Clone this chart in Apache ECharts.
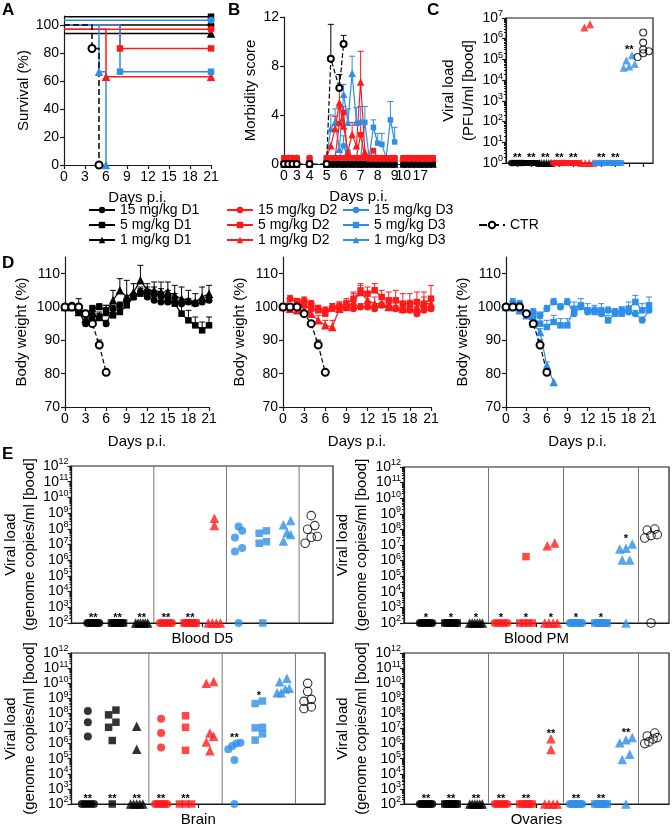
<!DOCTYPE html>
<html><head><meta charset="utf-8">
<script src="https://cdn.jsdelivr.net/npm/echarts@6/dist/echarts.min.js"></script>
<style>html,body{margin:0;padding:0;background:#fff}#c{width:672px;height:828px}</style>
</head><body><div id="c"></div>
<script>
// ================= DATA =================
const groupNames = ['15 mg/kg D1','5 mg/kg D1','1 mg/kg D1','15 mg/kg D2','5 mg/kg D2','1 mg/kg D2','15 mg/kg D3','5 mg/kg D3','1 mg/kg D3','CTR'];

// ---- A: survival (%) step points [day, %] (as drawn, incl. graph offsets)
const surv15D1 = [[0,100],[21,100]];
const surv5D1  = [[0,106],[21,106]];
const surv1D1  = [[0,94],[21,94]];
const surv15D2 = [[0,97],[21,97]];
const surv5D2  = [[0,100],[8,83.3],[21,83.3]];
const surv1D2  = [[0,97],[6,63],[21,63]];
const surv15D3 = [[0,103.5],[21,103.5]];
const surv5D3  = [[0,100],[8,66.7],[21,66.7]];
const surv1D3  = [[0,100],[5,66.7],[6,0]];
const survCTR  = [[0,100],[4,83.3],[5,0]];

// ---- B: morbidity score (categories = time points, broken axis)
const morbCats = ['0','1','2','3','3.3','3.7','4','4.25','4.5','4.75','5','5.25','5.5','5.75','6','6.25','6.5','6.75','7','7.25','7.5','7.75','8','8.25','8.5','8.75','9','9.5','10','12','14','15','17','18','20','21'];
const morbTickText = ['0','','','3','','','4','','','','5','','','','6','','','','7','','','','8','','','','9','','10','','','','17','','',''];
const _ = null;
const morb15D1 = [0,0,0,0,_,_,0,_,_,_,0,0,0,0,0,0,0,0,0,0,0,0,0,0,0,0,0,_,0,0,0,0,0,0,0,0];
const morb5D1  = [0,0,0,0,_,_,0,_,_,_,0,0,0,0,0,0,0,0,0,0,0,0,0,0,0,0,0,_,0,0,0,0,0,0,0,0];
const morb1D1  = [0,0,0,0,_,_,0,_,_,_,0,0,0,0,0,0,0,0,0,0,0,0,0,0,0,0,0,_,0,0,0,0,0,0,0,0];
const morb15D2 = [0.5,0.5,0.5,0.5,_,_,0.5,_,_,_,0.5,0.5,0.5,0.5,0.5,0.5,0.5,0.5,0.5,0.5,0.5,0.5,0.5,0.5,0.5,0.5,0.5,_,0.5,0.5,0.5,0.5,0.5,0.5,0.5,0.5];
const morb5D2  = [0.5,0.5,0.5,0.5,_,_,0.5,_,_,_,0.5,0.5,0.5,3.3,4.2,0.5,0.5,0.5,2.4,0.5,0.5,1.1,0.5,0.5,0.5,0.5,0.5,_,0.5,0.5,0.5,0.5,0.5,0.5,0.5,0.5];
const morb1D2  = [0.5,0.5,0.5,0.5,_,_,0.5,_,_,_,0.5,1.5,2.9,5.0,3.1,1.0,2.4,1.5,6.7,1.0,0.5,0.5,0.5,0.5,0.5,0.5,0.5,_,0.5,0.5,0.5,0.5,0.5,0.5,0.5,0.5];
const morb15D3 = [0.5,0.5,0.5,0.5,_,_,0.5,_,_,_,0.5,0.5,0.5,0.5,1.5,0.5,0.5,0.5,0.5,0.5,0.5,0.5,0.5,0.5,0.5,0.5,0.5,_,0.5,0.5,0.5,0.5,0.5,0.5,0.5,0.5];
const morb5D3  = [0.5,0.5,0.5,0.5,_,_,0.5,_,_,_,0.5,0.5,0.5,0.5,0.5,1.0,0.5,0.5,0.5,3.4,0.5,3.0,1.7,1.6,0.5,3.6,1.8,_,0.5,0.5,0.5,0.5,0.5,0.5,0.5,0.5];
const morb1D3  = [0.5,0.5,0.5,0.5,_,_,0.5,_,_,_,0.5,2.9,3.4,1.2,5.7,3.4,7.4,3.4,3.5,_,_,_,_,_,_,_,_,_,_,_,_,_,_,_,_,_];
const morbCTR  = [0,0,0,0,_,_,0,_,_,_,0,8.6,_,6.2,9.8,_,_,_,_,_,_,_,_,_,_,_,_,_,_,_,_,_,_,_,_,_];
// SEM as [categoryIndex, sem]
const morbSem5D2  = [[13,1.3],[14,0.5],[18,1.0]];
const morbSem1D2  = [[12,1.0],[13,1.3],[14,1.0],[16,1.0],[18,2.5]];
const morbSem15D3 = [[14,0.8]];
const morbSem5D3  = [[19,1.3],[21,0.6],[22,0.8],[23,0.9],[25,1.5],[26,1.2]];
const morbSem1D3  = [[11,1.1],[12,1.1],[14,0.8],[15,1.1],[16,1.4],[17,1.2],[18,1.2]];
const morbSemCTR  = [[11,2.8],[13,1.1],[14,0.7]];

// ---- C: viral load in blood (PFU/ml), per group
const pfu15D1 = [1,1,1,1,1,1,1,1];
const pfu5D1  = [1,1,1,1,1,1,1,1];
const pfu1D1  = [1,1,1,1,1,1];
const pfu15D2 = [1,1,1,1,1,1,1,1];
const pfu5D2  = [1,1,1,1,1,1,1,1];
const pfu1D2  = [5e6,3.5e6,1,1,1,1];
const pfu15D3 = [1,1,1,1,1,1];
const pfu5D3  = [1,1,1,1,1,1];
const pfu1D3  = [1.6e5,9e4,6e4,4.5e4,4e4];
const pfuCTR  = [2e6,6.5e5,3e5,2.5e5,2e5,1.3e5];
const pfuStars  = ['**','**','**','**','**','','**','**','**',''];
const pfuStarAt = ['low','low','low','low','low','','low','low','high',''];

// ---- D: body weight (%) days 0..21, mean and SEM
const wt15D1 = [100,100.5,98.5,95,97.5,97,95,99.5,100.5,102,103,104.5,103,102,101.5,101.5,101.5,101,101.5,101,101.5,102];
const se15D1 = [0,0.5,1,1,1,1,1,1,1,1,1,1.5,1,1,1,1,1.5,1,1,1,1,1];
const wt5D1  = [100,100,99,98,99.5,100,99,97.5,98.5,100.5,103,104,104.5,104,103.5,102.5,101,98,96,94.5,93,94.5];
const se5D1  = [0,1,1,1,1,1,1.5,1.5,1,1,1,1.5,1.5,2,2,2.5,3,3,3,2.5,2.5,2.5];
const wt1D1  = [100,100,98.5,96.5,97,97,98.5,102,105,103,104.5,108,105,105,104.5,104.5,103.5,102.5,102,101.5,103,104];
const se1D1  = [0,1,4,1.5,1.5,1.5,2,3,3.5,5,2.5,4.5,2,2.5,3,3,3,3.5,3,2.5,3,2.5];
const wt15D2 = [100,102.5,101.5,102,101,99.5,99,100,100,100,99.5,100,100,99.5,100.5,100,99.5,99,99,98,99,99.5];
const se15D2 = [0,1,1,1,1,1,1,1,1,1,1,1,1,1,1,1,1,1,1,1,1,1];
const wt5D2  = [100,100,101.5,100.5,99.5,99,98,99.5,100,101,102.5,105,104,105,103,102,102,101,101,101.5,101,102.5];
const se5D2  = [0,1,1,1,1,1.5,1.5,1.5,1.5,1.5,2,2,2,2,2,2.5,3,3,3,3,3.5,4];
const wt1D2  = [100,99.5,99,99,98,96,94.5,94,99.5,100,101.5,104.5,102,101,101,100,100,99.5,100,100,101,101];
const se1D2  = [0,1,1,1,1,1.5,1.5,2,2,2,2.5,2,2,2,2,2,2,2,2,2,2,2];
const wt15D3 = [100,101.5,101,98,98.5,97.5,99.5,101.5,100,101.5,98,100,98.5,99,98,99,98.5,99,98.5,98,96,99];
const se15D3 = [0,1,1,1,1,1,1,1,1,1,1,1,1,1,1,1,1,1,1,1,1,1];
const wt5D3  = [100,100,99,98,96.5,95,94,95.5,94.5,94.5,99.5,100.5,99,98.5,99,96,98,98,99.5,101.5,99,100.5];
const se5D3  = [0,1,1,1,1,1.5,2,2,2,2,2,2,2,2,2,1.5,1.5,2,2,2,2,2.5];
const wt1D3  = [100,100,99,97.5,95,92.5,82.5,77.5];
const se1D3  = [0,0.5,0.5,0.5,0.5,1,1,0];
const wtCTR  = [100,100,100,98,95,88.6,80.4];
const seCTR  = [0,0,0.5,0.5,0.5,1.5,0.5];

// ---- E: viral load (genome copies/ml), 4 tissues, per group
const bD5 = [
  [1e2,1e2,1e2,1e2,1e2,1e2,1e2,1e2],
  [1e2,1e2,1e2,1e2,1e2,1e2,1e2,1e2],
  [1e2,1e2,1e2,1e2,1e2,1e2],
  [1e2,1e2,1e2,1e2,1e2,1e2],
  [1e2,1e2,1e2,1e2,1e2,1e2,1e2,1e2],
  [4.7e8,1.6e8,1e2,1e2,1e2,1e2],
  [1.4e8,7.4e7,2.8e7,5.9e6,3.6e6,1e2],
  [7.4e7,5.2e7,1.5e7,1.2e7,1e2],
  [3.4e8,1.8e8,5.8e7,4.4e7,1.7e7],
  [6.9e8,1.6e8,9.3e7,3.2e7,2.9e7,1.2e7]];
const bD5Stars  = ['**','**','**','**','**','','','','',''];
const bD5StarAt = ['low','low','low','low','low','','','','',''];
const bPM = [
  [1e2,1e2,1e2,1e2,1e2,1e2,1e2,1e2],
  [1e2,1e2,1e2,1e2,1e2,1e2,1e2,1e2],
  [1e2,1e2,1e2,1e2,1e2,1e2],
  [1e2,1e2,1e2,1e2,1e2],
  [1.8e6,1e2,1e2,1e2,1e2],
  [1.35e7,9e6,1e2,1e2,1e2,1e2],
  [1e2,1e2,1e2,1e2,1e2,1e2,1e2,1e2],
  [1e2,1e2,1e2,1e2,1e2,1e2,1e2],
  [1.15e7,6.3e6,5.5e6,1.1e6,1.1e6,1e2],
  [1.05e8,9.1e7,4.6e7,4e7,2.8e7,1e2]];
const bPMStars  = ['*','*','*','*','*','*','*','*','*',''];
const bPMStarAt = ['low','low','low','low','low','low','low','low','high',''];
const brain = [
  [1.45e8,2.6e7,3e6,1e2,1e2,1e2,1e2,1e2],
  [1.65e8,8e7,2.6e7,1.2e7,1.6e6,1e2],
  [1.4e7,4.3e5,1e2,1e2,1e2,1e2,1e2],
  [4.4e7,5.1e6,5.5e5,1e2,1e2,1e2,1e2,1e2,1e2],
  [7e7,1.2e7,3.6e5,1e2,1e2,1e2],
  [1.3e10,9.8e9,5.1e6,3.1e6,1.3e6,3.3e5],
  [1.15e6,1e6,7e5,4.3e5,8.3e4,1e2],
  [6.6e8,4.5e8,1.2e7,1.1e7,4.4e6,1.7e6],
  [2.1e10,1.26e10,4.7e9,4.2e9,2.3e9,2.3e9],
  [9.8e9,2.8e9,8.5e8,6.3e8,2.7e8,2.1e8]];
const brainStars  = ['**','**','**','**','**','','**','*','',''];
const brainStarAt = ['low','low','low','low','low','','high','high','',''];
const ovary = [
  [1e2,1e2,1e2,1e2,1e2,1e2,1e2,1e2],
  [1e2,1e2,1e2,1e2,1e2,1e2,1e2,1e2],
  [1e2,1e2,1e2,1e2,1e2,1e2],
  [1e2,1e2,1e2,1e2,1e2,1e2],
  [1e2,1e2,1e2,1e2,1e2,1e2],
  [2.1e6,4e5,1e2,1e2,1e2,1e2],
  [1e2,1e2,1e2,1e2,1e2,1e2,1e2,1e2],
  [1e2,1e2,1e2,1e2,1e2,1e2,1e2],
  [2.5e6,1.8e6,1.15e6,2e5,9e4,1e2],
  [5e6,3.2e6,2.5e6,2e6,1.3e6,1e6]];
const ovaryStars  = ['**','**','**','**','**','**','**','**','**',''];
const ovaryStarAt = ['low','low','low','low','low','high','low','low','high',''];

// ================= STYLE =================
const FF = 'Liberation Sans, Arial, sans-serif';
const BLACK = '#000000', RED = '#ff1a1a', BLUE = '#2e8ee8';
const sty = {
  '15 mg/kg D1': {c: BLACK, s: 'circle'}, '5 mg/kg D1': {c: BLACK, s: 'rect'}, '1 mg/kg D1': {c: BLACK, s: 'triangle'},
  '15 mg/kg D2': {c: RED, s: 'circle'},   '5 mg/kg D2': {c: RED, s: 'rect'},   '1 mg/kg D2': {c: RED, s: 'triangle'},
  '15 mg/kg D3': {c: BLUE, s: 'circle'},  '5 mg/kg D3': {c: BLUE, s: 'rect'},  '1 mg/kg D3': {c: BLUE, s: 'triangle'},
  'CTR': {c: BLACK, s: 'emptyCircle'}
};
function symSize(n, base) { const s = sty[n].s; return s === 'triangle' ? base + 1.5 : (s === 'rect' ? base - 0.5 : base); }

function mkAxis(o) {
  const base = {
    axisLine: {show: true, onZero: false, lineStyle: {color: '#1a1a1a', width: 1.2}},
    axisTick: {show: true, length: 4, lineStyle: {color: '#1a1a1a', width: 1.2}},
    axisLabel: {color: '#000', fontSize: 14, fontFamily: FF, margin: 5},
    splitLine: {show: false},
    nameTextStyle: {color: '#000', fontSize: 15, fontFamily: FF},
    nameLocation: 'middle'
  };
  for (const k in o) {
    if (base[k] && typeof o[k] === 'object' && !Array.isArray(o[k])) base[k] = Object.assign({}, base[k], o[k]);
    else base[k] = o[k];
  }
  return base;
}
const expRich = {s: {fontSize: 9, fontFamily: FF, color: '#000', padding: [0, 0, 8, 0]}};
const expFmt = v => '10{s|' + Math.round(v) + '}';
const expFmtEven = v => (Math.round(v) % 2 === 0 ? expFmt(v) : '');
function minorTicks(lo, hi) { const a = []; for (let n = lo; n < hi; n++) for (let k = 2; k <= 9; k++) a.push(n + Math.log10(k)); return a; }

// ================= LAYOUT =================
const grids = [
  {left: 64, top: 16, width: 147, height: 149},                       // A
  {left: 284, top: 17, width: 149, height: 147},                      // B
  {left: 506, top: 18, width: 147, height: 145, show: true, borderColor: '#1a1a1a', borderWidth: 1.2}, // C
  {left: 65, top: 257, width: 144, height: 150},                      // D1
  {left: 283, top: 257, width: 148, height: 150},                     // D2
  {left: 506, top: 257, width: 143, height: 150},                     // D3
  {left: 63, top: 466, width: 270, height: 157, show: true, borderColor: '#1a1a1a', borderWidth: 1.2}, // E1
  {left: 404, top: 467, width: 265, height: 156, show: true, borderColor: '#1a1a1a', borderWidth: 1.2}, // E2
  {left: 63, top: 653, width: 262, height: 155, show: true, borderColor: '#1a1a1a', borderWidth: 1.2}, // E3
  {left: 404, top: 653, width: 265, height: 155, show: true, borderColor: '#1a1a1a', borderWidth: 1.2}  // E4
];
const eRange = [[-0.9, 9.9], [-0.88, 9.72], [-0.67, 9.71], [-0.88, 9.72]];
const eNames = ['Blood D5', 'Blood PM', 'Brain', 'Ovaries'];

const xAxes = [
  mkAxis({gridIndex: 0, type: 'value', min: 0, max: 21, interval: 3, name: 'Days p.i.', nameGap: 25}),
  mkAxis({gridIndex: 1, type: 'category', data: morbCats, boundaryGap: false, name: 'Days p.i.', nameGap: 25,
    axisLabel: {interval: 0, formatter: (v, i) => morbTickText[i]},
    axisTick: {interval: i => morbTickText[i] !== ''}}),
  mkAxis({gridIndex: 2, type: 'value', min: -0.8, max: 9.7, axisLabel: {show: false},
    axisTick: {customValues: [0,1,2,3,4,5,6,7,8,9]}}),
];
for (let i = 0; i < 3; i++) xAxes.push(mkAxis({gridIndex: 3 + i, type: 'value', min: 0, max: 21, interval: 3, name: 'Days p.i.', nameGap: 27}));
for (let i = 0; i < 4; i++) xAxes.push(mkAxis({gridIndex: 6 + i, type: 'value', min: eRange[i][0], max: eRange[i][1],
  axisLabel: {show: false}, axisTick: {customValues: [(eRange[i][0] + eRange[i][1]) / 2]}, name: eNames[i], nameGap: 8}));

const yAxes = [
  mkAxis({gridIndex: 0, type: 'value', position: 'left', min: 0, max: 106.5, name: 'Survival (%)', nameGap: 31,
    axisTick: {customValues: [0,20,40,60,80,100]}, axisLabel: {customValues: [0,20,40,60,80,100]}}),
  mkAxis({gridIndex: 1, type: 'value', position: 'left', min: 0, max: 12, interval: 4, name: 'Morbidity score', nameGap: 26}),
  mkAxis({gridIndex: 2, type: 'value', position: 'left', min: 0, max: 7, interval: 1, name: 'Viral load\n(PFU/ml [bood]', nameGap: 26,
    nameTextStyle: {lineHeight: 20}, axisLabel: {formatter: expFmt, rich: expRich, fontSize: 14, margin: 3}}),
];
for (let i = 0; i < 3; i++) yAxes.push(mkAxis({gridIndex: 3 + i, type: 'value', position: 'left', min: 70, max: 115, name: 'Body weight (%)', nameGap: 36,
  axisTick: {customValues: [70,80,90,100,110]}, axisLabel: {customValues: [70,80,90,100,110]}}));
// E main axes: ticks every decade, labels on even exponents
for (let i = 0; i < 4; i++) yAxes.push(mkAxis({gridIndex: 6 + i, type: 'value', position: 'left', min: 2, max: 12, interval: 1,
  name: 'Viral load\n(genome copies/ml [bood]', nameGap: 30, nameTextStyle: {lineHeight: 19},
  axisLabel: {formatter: expFmtEven, rich: expRich, fontSize: 14, margin: 3}}));
// minor log ticks (+ odd-exponent labels for E), on the same left axis line
yAxes.push(mkAxis({gridIndex: 2, type: 'value', position: 'left', offset: 0, min: 0, max: 7, axisLine: {show: false}, axisLabel: {show: false},
  axisTick: {customValues: minorTicks(0, 7), length: 2}}));
for (let i = 0; i < 4; i++) yAxes.push(mkAxis({gridIndex: 6 + i, type: 'value', position: 'left', offset: 0, min: 2, max: 12, axisLine: {show: false},
  axisLabel: {customValues: [3, 5, 7, 9, 11], formatter: expFmt, rich: expRich, fontSize: 14, margin: 3},
  axisTick: {customValues: minorTicks(2, 12), length: 2}}));

// ================= SERIES =================
const series = [];
const lineType = n => (n === 'CTR' ? 'dashed' : 'solid');

// A
const survSets = [surv15D1, surv5D1, surv1D1, surv15D2, surv5D2, surv1D2, surv15D3, surv5D3, surv1D3, survCTR];
groupNames.forEach((n, gi) => {
  series.push({type: 'line', name: n, xAxisIndex: 0, yAxisIndex: 0, step: 'end',
    data: survSets[gi].map((p, i) => (i === 0 ? {value: p, symbol: 'none'} : {value: p})),
    symbol: sty[n].s, symbolSize: symSize(n, 7), showAllSymbol: true,
    itemStyle: {color: sty[n].c, borderColor: sty[n].c, borderWidth: n === 'CTR' ? 1.2 : 0},
    lineStyle: {color: sty[n].c, width: 1.5, type: lineType(n)}, z: 3});
});

function errSeries(xi, yi, color, data) {
  return {type: 'custom', xAxisIndex: xi, yAxisIndex: yi, data: data, z: 2, silent: true,
    renderItem: (params, api) => {
      const p1 = api.coord([api.value(0), api.value(1)]), p2 = api.coord([api.value(0), api.value(2)]);
      return {type: 'group', children: [
        {type: 'line', shape: {x1: p1[0], y1: p1[1], x2: p2[0], y2: p2[1]}, style: {stroke: color, lineWidth: 1}},
        {type: 'line', shape: {x1: p2[0] - 3, y1: p2[1], x2: p2[0] + 3, y2: p2[1]}, style: {stroke: color, lineWidth: 1}}]};
    }};
}

// B
const morbSets = {'15 mg/kg D1': morb15D1, '5 mg/kg D1': morb5D1, '1 mg/kg D1': morb1D1,
  '15 mg/kg D3': morb15D3, '5 mg/kg D3': morb5D3, '1 mg/kg D3': morb1D3,
  '15 mg/kg D2': morb15D2, '5 mg/kg D2': morb5D2, '1 mg/kg D2': morb1D2, 'CTR': morbCTR};
const morbSems = {'5 mg/kg D2': morbSem5D2, '1 mg/kg D2': morbSem1D2, '15 mg/kg D3': morbSem15D3,
  '5 mg/kg D3': morbSem5D3, '1 mg/kg D3': morbSem1D3, 'CTR': morbSemCTR};
Object.keys(morbSets).forEach(n => {
  const arr = morbSets[n];
  if (morbSems[n]) series.push(errSeries(1, 1, sty[n].c, morbSems[n].map(([i, s]) => [i, arr[i], arr[i] + s])));
  series.push({type: 'line', name: n, xAxisIndex: 1, yAxisIndex: 1, data: arr, connectNulls: n === 'CTR',
    symbol: sty[n].s, symbolSize: symSize(n, 6), showAllSymbol: true,
    itemStyle: {color: sty[n].c, borderColor: sty[n].c, borderWidth: n === 'CTR' ? 1.2 : 0},
    lineStyle: {color: sty[n].c, width: 1.2, type: lineType(n)}, z: 3});
});

// beeswarm layout for dot plots (log10 values)
function swarm(vals, gi, span, maxStep, thr) {
  const logs = vals.map(v => Math.log10(v)).sort((a, b) => a - b);
  const out = [];
  let i = 0;
  while (i < logs.length) {
    let j = i;
    while (j + 1 < logs.length && logs[j + 1] - logs[i] <= thr) j++;
    const m = j - i + 1, step = m > 1 ? Math.min(maxStep, span / (m - 1)) : 0;
    for (let k = 0; k < m; k++) out.push([gi + (k - (m - 1) / 2) * step, logs[i + k]]);
    i = j + 1;
  }
  return out;
}
function starSeries(xi, yi, groups, stars, at, fs) {
  const data = [], txt = [];
  groups.forEach((g, gi) => {
    if (!stars[gi]) return;
    const logs = g.map(v => Math.log10(v));
    data.push([gi, at[gi] === 'high' ? Math.max(...logs) : Math.min(...logs)]);
    txt.push(stars[gi]);
  });
  return {type: 'custom', xAxisIndex: xi, yAxisIndex: yi, data: data, z: 5, silent: true,
    renderItem: (params, api) => {
      const p = api.coord([api.value(0), api.value(1)]);
      return {type: 'text', x: p[0], y: p[1] - 5, style: {text: txt[params.dataIndex], fill: '#000',
        font: 'bold ' + fs + 'px ' + FF, align: 'center', verticalAlign: 'middle'}};
    }};
}
function dotPanel(xi, yi, groups, size, span, maxStep, thr) {
  groups.forEach((g, gi) => {
    const n = groupNames[gi], ctr = n === 'CTR';
    series.push({type: 'scatter', name: n, xAxisIndex: xi, yAxisIndex: yi, data: swarm(g, gi, span, maxStep, thr),
      symbol: ctr ? 'circle' : sty[n].s, symbolSize: symSize(n, size) + (ctr ? 0.5 : 0),
      itemStyle: {color: ctr ? 'rgba(255,255,255,0)' : sty[n].c, borderColor: sty[n].c, borderWidth: ctr ? 1.1 : 0}, z: 4});
  });
}

// C
const pfuGroups = [pfu15D1, pfu5D1, pfu1D1, pfu15D2, pfu5D2, pfu1D2, pfu15D3, pfu5D3, pfu1D3, pfuCTR];
dotPanel(2, 2, pfuGroups, 6.5, 0.85, 0.4, 0.3);
series.push(starSeries(2, 2, pfuGroups, pfuStars, pfuStarAt, 11));

// D
const dSets = [
  [['15 mg/kg D1', wt15D1, se15D1], ['5 mg/kg D1', wt5D1, se5D1], ['1 mg/kg D1', wt1D1, se1D1]],
  [['15 mg/kg D2', wt15D2, se15D2], ['5 mg/kg D2', wt5D2, se5D2], ['1 mg/kg D2', wt1D2, se1D2]],
  [['15 mg/kg D3', wt15D3, se15D3], ['5 mg/kg D3', wt5D3, se5D3], ['1 mg/kg D3', wt1D3, se1D3]]];
dSets.forEach((set, p) => {
  set.concat([['CTR', wtCTR, seCTR]]).forEach(([n, w, s]) => {
    series.push(errSeries(3 + p, 3 + p, sty[n].c, w.map((v, d) => [d, v, v + s[d]]).filter((r, d) => s[d] > 0)));
    series.push({type: 'line', name: n, xAxisIndex: 3 + p, yAxisIndex: 3 + p, data: w.map((v, d) => [d, v]),
      symbol: sty[n].s, symbolSize: symSize(n, 7), showAllSymbol: true,
      itemStyle: {color: sty[n].c, borderColor: sty[n].c, borderWidth: n === 'CTR' ? 1.2 : 0},
      lineStyle: {color: sty[n].c, width: 1.2, type: lineType(n)}, z: 3});
  });
});

// E
const eSets = [[bD5, bD5Stars, bD5StarAt], [bPM, bPMStars, bPMStarAt], [brain, brainStars, brainStarAt], [ovary, ovaryStars, ovaryStarAt]];
const sepPos = [2.5, 5.5, 8.5];
eSets.forEach(([groups, stars, at], i) => {
  series.push({type: 'custom', xAxisIndex: 6 + i, yAxisIndex: 6 + i, data: sepPos.map(x => [x]), silent: true, z: 1,
    renderItem: (params, api) => {
      const a = api.coord([api.value(0), 2]), b = api.coord([api.value(0), 12]);
      return {type: 'line', shape: {x1: a[0], y1: a[1], x2: b[0], y2: b[1]}, style: {stroke: '#777', lineWidth: 1}};
    }});
  dotPanel(6 + i, 6 + i, groups, 8, 0.5, 0.3, 0.45);
  series.push(starSeries(6 + i, 6 + i, groups, stars, at, 11));
});

// ================= CHART =================
const legendBase = {orient: 'vertical', selectedMode: false, itemGap: 1, itemWidth: 26, itemHeight: 8,
  textStyle: {fontSize: 14, fontFamily: FF, color: '#000', lineHeight: 14}, padding: 0};
const chart = echarts.init(document.getElementById('c'), null, {renderer: 'canvas'});
chart.setOption({
  animation: false,
  backgroundColor: '#fff',
  textStyle: {fontFamily: FF},
  grid: grids,
  xAxis: xAxes,
  yAxis: yAxes,
  legend: [
    Object.assign({}, legendBase, {left: 88, top: 203, data: groupNames.slice(0, 3)}),
    Object.assign({}, legendBase, {left: 226, top: 203, data: groupNames.slice(3, 6)}),
    Object.assign({}, legendBase, {left: 342, top: 203, data: groupNames.slice(6, 9)}),
    Object.assign({}, legendBase, {left: 478, top: 218, data: ['CTR']})
  ],
  graphic: [
    {type: 'text', left: 2, top: 2, style: {text: 'A', font: 'bold 17px ' + FF, fill: '#000'}},
    {type: 'text', left: 228, top: 2, style: {text: 'B', font: 'bold 17px ' + FF, fill: '#000'}},
    {type: 'text', left: 427, top: 2, style: {text: 'C', font: 'bold 17px ' + FF, fill: '#000'}},
    {type: 'text', left: 2, top: 255, style: {text: 'D', font: 'bold 17px ' + FF, fill: '#000'}},
    {type: 'text', left: 2, top: 446, style: {text: 'E', font: 'bold 17px ' + FF, fill: '#000'}}
  ],
  series: series
});
</script></body></html>
